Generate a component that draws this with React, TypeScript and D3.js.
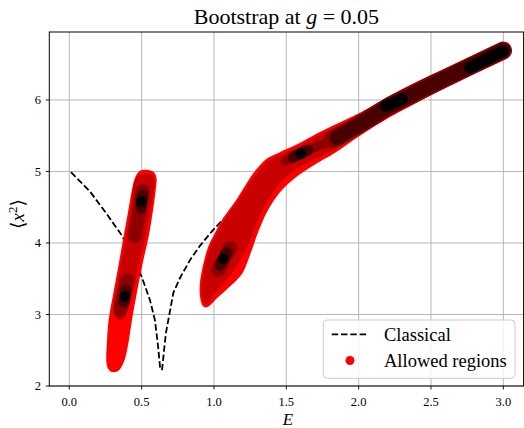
import React from 'react';
import * as d3 from 'd3';

type P = [number, number];

const xTicks = [0, 0.5, 1, 1.5, 2, 2.5, 3];
const yTicks = [2, 3, 4, 5, 6];
const xTickLabels = ['0.0', '0.5', '1.0', '1.5', '2.0', '2.5', '3.0'];
const yTickLabels = ['2', '3', '4', '5', '6'];

// Classical curve, two branches (E, <x^2>)
const classicalLeft: P[] = [
  [0.012, 4.99], [0.143, 4.72], [0.25, 4.43], [0.362, 4.11], [0.433, 3.83],
  [0.5, 3.53], [0.558, 3.2], [0.592, 2.92], [0.613, 2.57], [0.623, 2.36], [0.629, 2.22],
];
const classicalRight: P[] = [
  [0.641, 2.22], [0.655, 2.5], [0.668, 2.74], [0.719, 3.3], [0.765, 3.51],
  [0.834, 3.76], [0.903, 3.96], [0.993, 4.18], [1.111, 4.43], [1.249, 4.71],
];

// Allowed regions, level 1 (outermost)
const allowedOuterLeft: P[] = [
  [0.489, 5.01], [0.544, 5.02], [0.585, 4.99], [0.603, 4.91], [0.599, 4.77],
  [0.579, 4.46], [0.551, 4.11], [0.509, 3.73], [0.468, 3.31], [0.433, 2.92],
  [0.406, 2.57], [0.378, 2.34], [0.337, 2.21], [0.288, 2.2], [0.261, 2.28],
  [0.261, 2.64], [0.274, 2.95], [0.302, 3.27], [0.337, 3.65], [0.371, 4.04],
  [0.406, 4.43], [0.433, 4.74], [0.454, 4.91],
];
const allowedOuterRight: P[] = [
  [0.924, 3.12], [0.903, 3.26], [0.903, 3.44], [0.917, 3.62], [0.959, 3.94],
  [1.007, 4.14], [1.056, 4.32], [1.166, 4.64], [1.27, 4.97], [1.353, 5.16],
  [1.401, 5.22], [1.456, 5.27], [1.595, 5.4], [1.684, 5.5], [1.802, 5.62],
  [2.009, 5.82], [2.217, 6.06], [2.493, 6.34], [2.749, 6.57], [2.908, 6.71],
  [2.977, 6.76], [3.018, 6.74], [3.036, 6.69], [3.018, 6.62], [2.977, 6.57],
  [2.749, 6.34], [2.493, 6.06], [2.217, 5.76], [2.009, 5.5], [1.837, 5.26],
  [1.684, 5.08], [1.56, 4.91], [1.456, 4.71], [1.374, 4.46], [1.311, 4.18],
  [1.256, 3.87], [1.201, 3.59], [1.166, 3.5], [1.028, 3.24], [0.952, 3.1],
];

// level 2
const allowedMidLeft: P[] = [
  [0.475, 4.94], [0.544, 4.97], [0.585, 4.91], [0.585, 4.77], [0.558, 4.43],
  [0.523, 4.07], [0.482, 3.69], [0.44, 3.31], [0.406, 3.06], [0.364, 2.92],
  [0.323, 2.95], [0.309, 3.13], [0.337, 3.48], [0.371, 3.87], [0.406, 4.25],
  [0.433, 4.6], [0.447, 4.84],
];
const allowedMidRight: P[] = [
  [0.938, 3.15], [0.917, 3.27], [0.917, 3.44], [0.931, 3.62], [0.972, 3.93],
  [1.021, 4.13], [1.069, 4.31], [1.18, 4.63], [1.284, 4.94], [1.367, 5.13],
  [1.415, 5.19], [1.47, 5.24], [1.595, 5.36], [1.684, 5.46], [1.802, 5.59],
  [2.009, 5.78], [2.217, 6.01], [2.493, 6.3], [2.749, 6.54], [2.908, 6.68],
  [2.977, 6.72], [3.012, 6.7], [3.019, 6.66], [2.977, 6.6], [2.749, 6.37],
  [2.493, 6.09], [2.217, 5.8], [2.009, 5.53], [1.837, 5.31], [1.684, 5.16],
  [1.56, 5.02], [1.456, 4.84], [1.374, 4.6], [1.304, 4.32], [1.242, 4.0],
  [1.166, 3.71], [1.083, 3.48], [1.007, 3.3], [0.959, 3.16],
];

// level 3 tracks
const allowedLevel3: P[][] = [
  [[0.509, 4.73], [0.454, 4.1]],
  [[0.399, 3.48], [0.35, 3.06]],
  [[1.028, 3.62], [1.111, 3.93]],
];
const allowedLevel3Thin: P[][] = [
  [[1.491, 5.14], [1.595, 5.25], [1.823, 5.44]],
];
const allowedLevel3Band: P[][] = [
  [[1.823, 5.45], [2.009, 5.66], [2.217, 5.92], [2.493, 6.2], [2.749, 6.45], [2.998, 6.69]],
];
// level 4 tracks
const allowedLevel4: P[][] = [
  [[0.506, 4.67], [0.496, 4.49]],
  [[0.392, 3.34], [0.378, 3.17]],
  [[1.042, 3.69], [1.09, 3.87]],
  [[1.546, 5.2], [1.65, 5.3]],
];
const allowedLevel4Band: P[][] = [
  [[1.85, 5.47], [2.009, 5.66], [2.217, 5.92], [2.493, 6.2], [2.749, 6.45], [2.998, 6.69]],
];
// level 5 (innermost)
const allowedLevel5: P[][] = [
  [[2.189, 5.92], [2.3, 6.01]],
  [[2.77, 6.45], [2.997, 6.68]],
];
const allowedLevel5Points: P[] = [
  [0.5, 4.58], [0.385, 3.25], [1.065, 3.78], [1.6, 5.25],
];

const W = 524;
const H = 428;
const L = 49.3, R = 523.6, T = 32, B = 386;
const FONT = '"Liberation Serif", "DejaVu Serif", serif';

export default function App() {
  const x = d3.scaleLinear().domain([-0.138, 3.14]).range([L, R]);
  const y = d3.scaleLinear().domain([2, 6.95]).range([B, T]);
  const line = d3.line<P>().x(d => x(d[0])).y(d => y(d[1]));
  const poly = d3.line<P>().x(d => x(d[0])).y(d => y(d[1])).curve(d3.curveCatmullRomClosed.alpha(0.5));

  const c1 = '#ff0000', c2 = '#c80000', c3 = '#8e0000', c4 = '#480000', c5 = '#000000';

  const tracks = (data: P[][], color: string, width: number, key: string) =>
    data.map((d, i) => (
      <path key={key + i} d={line(d) || ''} fill="none" stroke={color} strokeWidth={width}
        strokeLinecap="round" strokeLinejoin="round" />
    ));

  return (
    <svg width={W} height={H} style={{ position: 'absolute', left: 0, top: 0, background: '#fff' }}
      fontFamily={FONT}>
      <defs>
        <clipPath id="plot"><rect x={L} y={T} width={R - L} height={B - T} /></clipPath>
      </defs>
      {/* grid */}
      <g stroke="#b0b0b0" strokeWidth={0.9}>
        {xTicks.map(t => <line key={'gx' + t} x1={x(t)} x2={x(t)} y1={T} y2={B} />)}
        {yTicks.map(t => <line key={'gy' + t} x1={L} x2={R} y1={y(t)} y2={y(t)} />)}
      </g>
      <g clipPath="url(#plot)">
        {[classicalLeft, classicalRight].map((d, i) => (
          <path key={'cl' + i} d={line(d) || ''} fill="none" stroke="#000" strokeWidth={1.8}
            strokeDasharray="6.5,2.8" />
        ))}
        <path d={poly(allowedOuterLeft) || ''} fill={c1} />
        <path d={poly(allowedOuterRight) || ''} fill={c1} />
        <path d={poly(allowedMidLeft) || ''} fill={c2} />
        <path d={poly(allowedMidRight) || ''} fill={c2} />
        {tracks(allowedLevel3, c3, 14, 'l3')}
        {tracks(allowedLevel3Thin, c3, 9, 'l3t')}
        {tracks(allowedLevel3Band, c3, 18, 'l3b')}
        {tracks(allowedLevel4, c4, 11, 'l4')}
        {tracks(allowedLevel4Band, c4, 15, 'l4b')}
        {tracks(allowedLevel5, c5, 12, 'l5')}
        {allowedLevel5Points.map((d, i) => (
          <circle key={'p5' + i} cx={x(d[0])} cy={y(d[1])} r={5.5} fill={c5} />
        ))}
      </g>
      {/* spines */}
      <rect x={L} y={T} width={R - L} height={B - T} fill="none" stroke="#000" strokeWidth={1} />
      {/* ticks */}
      <g stroke="#000" strokeWidth={0.9}>
        {xTicks.map(t => <line key={'tx' + t} x1={x(t)} x2={x(t)} y1={B} y2={B + 3.5} />)}
        {yTicks.map(t => <line key={'ty' + t} x1={L - 3.5} x2={L} y1={y(t)} y2={y(t)} />)}
      </g>
      <g fontSize={12.5} fill="#000">
        {xTicks.map((t, i) => (
          <text key={'lx' + t} x={x(t)} y={406} textAnchor="middle">{xTickLabels[i]}</text>
        ))}
        {yTicks.map((t, i) => (
          <text key={'ly' + t} x={41} y={y(t) + 4.3} textAnchor="end">{yTickLabels[i]}</text>
        ))}
      </g>
      {/* title */}
      <text x={(L + R) / 2} y={24} textAnchor="middle" fontSize={22}>
        Bootstrap at <tspan fontStyle="italic">g</tspan> = 0.05
      </text>
      {/* axis labels */}
      <text x={288} y={424.5} textAnchor="middle" fontSize={17} fontStyle="italic">E</text>
      <text transform="translate(24,214) rotate(-90)" textAnchor="middle" fontSize={19}>
        <tspan>⟨</tspan><tspan fontStyle="italic">x</tspan><tspan fontSize={13} dy={-7}>2</tspan><tspan dy={7}>⟩</tspan>
      </text>
      {/* legend */}
      <g>
        <rect x={323.3} y={320} width={191.7} height={58.3} rx={4} fill="#fff" fillOpacity={0.8}
          stroke="#cccccc" strokeWidth={1} />
        <line x1={331.7} x2={368.3} y1={334.3} y2={334.3} stroke="#000" strokeWidth={1.8}
          strokeDasharray="6.5,2.8" />
        <circle cx={350} cy={360.5} r={4.5} fill={c1} />
        <text x={384} y={340.5} fontSize={18.5}>Classical</text>
        <text x={384} y={366.5} fontSize={18.5}>Allowed regions</text>
      </g>
    </svg>
  );
}
